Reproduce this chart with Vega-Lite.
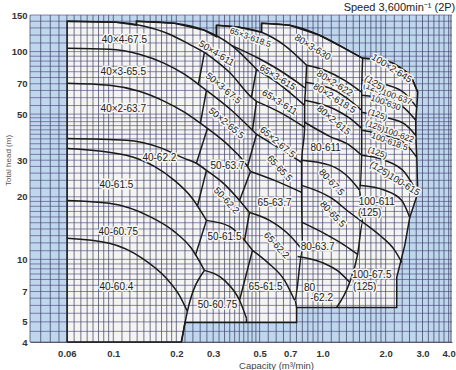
{
"$schema": "https://vega.github.io/schema/vega-lite/v6.json",
"width": 422, "height": 327,
"autosize": "none",
"padding": {"left": 30, "top": 15, "right": 4, "bottom": 28},
"config": {"view": {"fill": "#bfd7ed", "stroke": null}, "font": "Liberation Sans"},
"title": {"text": "Speed  3,600min⁻¹ (2P)", "anchor": "end", "fontSize": 11, "fontWeight": "normal", "color": "#222", "baseline": "bottom", "offset": 0, "dy": 14},
"datasets": {
"gx": [0.04,0.045,0.05,0.055,0.06,0.065,0.07,0.075,0.08,0.085,0.09,0.095,0.1,0.11,0.12,0.13,0.14,0.15,0.16,0.17,0.18,0.19,0.2,0.22,0.24,0.26,0.28,0.3,0.32,0.34,0.36,0.38,0.4,0.42,0.44,0.46,0.48,0.5,0.55,0.6,0.65,0.7,0.75,0.8,0.85,0.9,0.95,1,1.1,1.2,1.3,1.4,1.5,1.6,1.7,1.8,1.9,2,2.2,2.4,2.6,2.8,3,3.2,3.4,3.6,3.8,4,4.1],
"gy": [4,4.5,5,5.5,6,6.5,7,7.5,8,8.5,9,9.5,10,11,12,13,14,15,16,17,18,19,20,22,24,26,28,30,32,34,36,38,40,42,44,46,48,50,55,60,65,70,75,80,85,90,95,100,110,120,130,140,150],
"env": [
{"o":0,"q":0.0602,"h":4.0},{"o":1,"q":0.0602,"h":139.9},{"o":2,"q":0.1034,"h":138.4},{"o":3,"q":0.1288,"h":134.0},{"o":4,"q":0.1288,"h":139.9},{"o":5,"q":0.1957,"h":136.8},{"o":6,"q":0.2725,"h":126.6},{"o":7,"q":0.3111,"h":117.8},{"o":8,"q":0.3111,"h":133.8},{"o":9,"q":0.4009,"h":130.9},{"o":10,"q":0.5106,"h":123.9},{"o":11,"q":0.5106,"h":136.8},{"o":12,"q":0.6953,"h":133.8},{"o":13,"q":0.9675,"h":119.8},{"o":14,"q":1.274,"h":103.7},{"o":15,"q":1.554,"h":92.8},{"o":16,"q":1.98,"h":90.8},{"o":17,"q":2.336,"h":84.0},{"o":18,"q":2.666,"h":74.4},{"o":19,"q":2.848,"h":63.7},{"o":20,"q":2.817,"h":53.9},{"o":21,"q":2.786,"h":46.7},{"o":22,"q":2.786,"h":39.5},{"o":23,"q":2.817,"h":31.0},{"o":24,"q":2.848,"h":20.8},{"o":25,"q":2.608,"h":15.9},{"o":26,"q":2.468,"h":11.68},{"o":27,"q":2.26,"h":8.19},{"o":28,"q":2.26,"h":5.87},{"o":29,"q":0.751,"h":5.87},{"o":30,"q":0.751,"h":4.97},{"o":31,"q":0.22,"h":4.97},{"o":32,"q":0.2115,"h":4.0},{"o":33,"q":0.0602,"h":4.0}
],
"curves": [
{"id":"A1","o":0,"q":0.0602,"h":139.9},{"id":"A1","o":1,"q":0.1034,"h":138.4},{"id":"A1","o":2,"q":0.1407,"h":132.3},{"id":"A1","o":3,"q":0.1853,"h":121.2},{"id":"A1","o":4,"q":0.231,"h":108.4},{"id":"A1","o":5,"q":0.2725,"h":99.2},
{"id":"A2","o":0,"q":0.0602,"h":103.7},{"id":"A2","o":1,"q":0.0957,"h":102.6},{"id":"A2","o":2,"q":0.1331,"h":97.1},{"id":"A2","o":3,"q":0.1754,"h":87.8},{"id":"A2","o":4,"q":0.2186,"h":77.8},{"id":"A2","o":5,"q":0.255,"h":69.6},{"id":"A2","o":6,"q":0.2786,"h":65.1},
{"id":"A3","o":0,"q":0.0602,"h":70.4},{"id":"A3","o":1,"q":0.0957,"h":68.8},{"id":"A3","o":2,"q":0.1331,"h":64.4},{"id":"A3","o":3,"q":0.1754,"h":57.6},{"id":"A3","o":4,"q":0.2186,"h":51.1},{"id":"A3","o":5,"q":0.2607,"h":45.2},{"id":"A3","o":6,"q":0.2817,"h":42.7},
{"id":"A4","o":0,"q":0.0602,"h":38.2},{"id":"A4","o":1,"q":0.1154,"h":37.4},{"id":"A4","o":2,"q":0.166,"h":34.6},{"id":"A4","o":3,"q":0.2186,"h":30.6},{"id":"A4","o":4,"q":0.2494,"h":29.0},{"id":"A4","o":5,"q":0.2786,"h":26.8},
{"id":"A5","o":0,"q":0.0602,"h":34.2},{"id":"A5","o":1,"q":0.1154,"h":31.7},{"id":"A5","o":2,"q":0.1571,"h":28.0},{"id":"A5","o":3,"q":0.1957,"h":24.0},{"id":"A5","o":4,"q":0.2361,"h":19.9},{"id":"A5","o":5,"q":0.2786,"h":15.4},
{"id":"A6","o":0,"q":0.0602,"h":19.2},{"id":"A6","o":1,"q":0.0957,"h":18.6},{"id":"A6","o":2,"q":0.1487,"h":16.1},{"id":"A6","o":3,"q":0.1957,"h":13.6},{"id":"A6","o":4,"q":0.2361,"h":11.3},{"id":"A6","o":5,"q":0.2725,"h":8.85},
{"id":"A7","o":0,"q":0.0602,"h":12.62},{"id":"A7","o":1,"q":0.0957,"h":11.94},{"id":"A7","o":2,"q":0.1376,"h":10.11},{"id":"A7","o":3,"q":0.1793,"h":8.1},{"id":"A7","o":4,"q":0.2069,"h":6.71},{"id":"A7","o":5,"q":0.2259,"h":5.62},
{"id":"S40a","o":0,"q":0.2725,"h":99.2},{"id":"S40a","o":1,"q":0.255,"h":69.6},
{"id":"S40b","o":0,"q":0.2786,"h":65.1},{"id":"S40b","o":1,"q":0.2607,"h":45.2},
{"id":"S40c","o":0,"q":0.2817,"h":42.7},{"id":"S40c","o":1,"q":0.2494,"h":29.0},
{"id":"S40d","o":0,"q":0.2786,"h":26.8},{"id":"S40d","o":1,"q":0.2522,"h":18.0},
{"id":"S40e","o":0,"q":0.2786,"h":15.4},{"id":"S40e","o":1,"q":0.2467,"h":10.45},
{"id":"S40f","o":0,"q":0.2725,"h":8.85},{"id":"S40f","o":1,"q":0.2259,"h":5.62},{"id":"S40f","o":2,"q":0.2115,"h":4.0},
{"id":"B1","o":0,"q":0.1288,"h":139.9},{"id":"B1","o":1,"q":0.1957,"h":136.8},{"id":"B1","o":2,"q":0.2725,"h":126.6},{"id":"B1","o":3,"q":0.3669,"h":107.2},{"id":"B1","o":4,"q":0.4831,"h":82.2},
{"id":"B2","o":0,"q":0.2725,"h":99.2},{"id":"B2","o":1,"q":0.3589,"h":79.5},{"id":"B2","o":2,"q":0.4572,"h":60.3},{"id":"B2","o":3,"q":0.4831,"h":57.6},
{"id":"B3","o":0,"q":0.2786,"h":65.1},{"id":"B3","o":1,"q":0.3669,"h":52.2},{"id":"B3","o":2,"q":0.4623,"h":41.8},{"id":"B3","o":3,"q":0.4831,"h":40.0},
{"id":"B4","o":0,"q":0.2817,"h":42.7},{"id":"B4","o":1,"q":0.3589,"h":35.0},{"id":"B4","o":2,"q":0.4376,"h":28.0},{"id":"B4","o":3,"q":0.4522,"h":26.5},
{"id":"B5","o":0,"q":0.2786,"h":26.8},{"id":"B5","o":1,"q":0.336,"h":23.2},{"id":"B5","o":2,"q":0.4009,"h":19.2},{"id":"B5","o":3,"q":0.4473,"h":16.8},
{"id":"B6","o":0,"q":0.2786,"h":15.4},{"id":"B6","o":1,"q":0.3589,"h":14.4},{"id":"B6","o":2,"q":0.4235,"h":12.35},{"id":"B6","o":3,"q":0.4623,"h":11.05},
{"id":"B7","o":0,"q":0.2725,"h":8.85},{"id":"B7","o":1,"q":0.3398,"h":7.92},{"id":"B7","o":2,"q":0.4009,"h":6.35},{"id":"B7","o":3,"q":0.4328,"h":5.2},
{"id":"S50a","o":0,"q":0.4831,"h":82.2},{"id":"S50a","o":1,"q":0.4572,"h":60.3},
{"id":"S50b","o":0,"q":0.4831,"h":57.6},{"id":"S50b","o":1,"q":0.4623,"h":41.8},
{"id":"S50c","o":0,"q":0.4831,"h":40.0},{"id":"S50c","o":1,"q":0.4376,"h":28.0},
{"id":"S50d","o":0,"q":0.4522,"h":26.5},{"id":"S50d","o":1,"q":0.4009,"h":19.2},
{"id":"S50e","o":0,"q":0.4473,"h":16.8},{"id":"S50e","o":1,"q":0.4235,"h":12.35},
{"id":"S50f","o":0,"q":0.4623,"h":11.05},{"id":"S50f","o":1,"q":0.4009,"h":6.35},
{"id":"S50g","o":0,"q":0.4328,"h":5.2},{"id":"S50g","o":1,"q":0.4328,"h":4.97},
{"id":"C0","o":0,"q":0.3111,"h":133.8},{"id":"C0","o":1,"q":0.3111,"h":117.8},
{"id":"C1","o":0,"q":0.3111,"h":133.8},{"id":"C1","o":1,"q":0.4009,"h":130.9},{"id":"C1","o":2,"q":0.5106,"h":123.9},{"id":"C1","o":3,"q":0.6577,"h":107.2},{"id":"C1","o":4,"q":0.8384,"h":85.9},
{"id":"C2","o":0,"q":0.3669,"h":107.2},{"id":"C2","o":1,"q":0.4831,"h":93.9},{"id":"C2","o":2,"q":0.6228,"h":81.3},{"id":"C2","o":3,"q":0.8291,"h":66.6},
{"id":"C3","o":0,"q":0.4831,"h":82.2},{"id":"C3","o":1,"q":0.6228,"h":69.6},{"id":"C3","o":2,"q":0.8203,"h":55.1},
{"id":"C4","o":0,"q":0.4831,"h":57.6},{"id":"C4","o":1,"q":0.6228,"h":51.1},{"id":"C4","o":2,"q":0.8203,"h":43.2},
{"id":"C5","o":0,"q":0.4831,"h":40.0},{"id":"C5","o":1,"q":0.6228,"h":34.2},{"id":"C5","o":2,"q":0.7936,"h":29.3},
{"id":"C6","o":0,"q":0.4522,"h":26.5},{"id":"C6","o":1,"q":0.5893,"h":24.0},{"id":"C6","o":2,"q":0.7936,"h":21.0},
{"id":"C7","o":0,"q":0.4473,"h":16.8},{"id":"C7","o":1,"q":0.5577,"h":15.4},{"id":"C7","o":2,"q":0.6953,"h":13.05},{"id":"C7","o":3,"q":0.8024,"h":11.05},
{"id":"C8","o":0,"q":0.4623,"h":11.05},{"id":"C8","o":1,"q":0.5455,"h":9.67},{"id":"C8","o":2,"q":0.6577,"h":7.92},{"id":"C8","o":3,"q":0.735,"h":6.35},
{"id":"S65","o":0,"q":0.8384,"h":85.9},{"id":"S65","o":1,"q":0.8291,"h":66.6},{"id":"S65","o":2,"q":0.8203,"h":55.1},{"id":"S65","o":3,"q":0.8203,"h":43.2},{"id":"S65","o":4,"q":0.7936,"h":29.3},{"id":"S65","o":5,"q":0.7936,"h":21.0},{"id":"S65","o":6,"q":0.8024,"h":11.05},{"id":"S65","o":7,"q":0.735,"h":6.35},{"id":"S65","o":8,"q":0.751,"h":5.87},
{"id":"D0","o":0,"q":0.5106,"h":136.8},{"id":"D0","o":1,"q":0.5106,"h":123.9},
{"id":"D1","o":0,"q":0.5106,"h":136.8},{"id":"D1","o":1,"q":0.6953,"h":133.8},{"id":"D1","o":2,"q":0.9675,"h":119.8},{"id":"D1","o":3,"q":1.274,"h":103.7},{"id":"D1","o":4,"q":1.554,"h":92.8},
{"id":"D2","o":0,"q":0.8384,"h":85.9},{"id":"D2","o":1,"q":1.0223,"h":81.3},{"id":"D2","o":2,"q":1.274,"h":72.7},{"id":"D2","o":3,"q":1.537,"h":63.7},
{"id":"D3","o":0,"q":0.8291,"h":71.2},{"id":"D3","o":1,"q":1.141,"h":65.1},{"id":"D3","o":2,"q":1.347,"h":58.3},{"id":"D3","o":3,"q":1.537,"h":52.2},
{"id":"D4","o":0,"q":0.8203,"h":58.3},{"id":"D4","o":1,"q":1.141,"h":52.8},{"id":"D4","o":2,"q":1.347,"h":47.8},{"id":"D4","o":3,"q":1.537,"h":42.7},
{"id":"D5","o":0,"q":0.8203,"h":45.7},{"id":"D5","o":1,"q":1.08,"h":39.1},{"id":"D5","o":2,"q":1.347,"h":35.4},{"id":"D5","o":3,"q":1.537,"h":31.7},
{"id":"D6","o":0,"q":0.7936,"h":30.0},{"id":"D6","o":1,"q":1.08,"h":28.4},{"id":"D6","o":2,"q":1.347,"h":24.5},{"id":"D6","o":3,"q":1.503,"h":21.5},
{"id":"D7","o":0,"q":0.7936,"h":22.7},{"id":"D7","o":1,"q":1.104,"h":19.7},{"id":"D7","o":2,"q":1.347,"h":16.8},{"id":"D7","o":3,"q":1.554,"h":15.1},
{"id":"D8","o":0,"q":0.7936,"h":15.1},{"id":"D8","o":1,"q":1.0223,"h":13.3},{"id":"D8","o":2,"q":1.274,"h":11.68},{"id":"D8","o":3,"q":1.47,"h":10.57},
{"id":"D9","o":0,"q":0.7591,"h":10.33},{"id":"D9","o":1,"q":0.989,"h":9.67},{"id":"D9","o":2,"q":1.206,"h":8.66},{"id":"D9","o":3,"q":1.347,"h":7.75},
{"id":"S80","o":0,"q":1.554,"h":92.8},{"id":"S80","o":1,"q":1.537,"h":63.7},{"id":"S80","o":2,"q":1.537,"h":52.2},{"id":"S80","o":3,"q":1.537,"h":42.7},{"id":"S80","o":4,"q":1.537,"h":31.7},{"id":"S80","o":5,"q":1.503,"h":21.5},{"id":"S80","o":6,"q":1.554,"h":15.1},{"id":"S80","o":7,"q":1.47,"h":10.57},{"id":"S80","o":8,"q":1.347,"h":7.75},{"id":"S80","o":9,"q":1.167,"h":5.87},
{"id":"E1","o":0,"q":1.554,"h":92.8},{"id":"E1","o":1,"q":1.98,"h":90.8},{"id":"E1","o":2,"q":2.336,"h":84.0},{"id":"E1","o":3,"q":2.666,"h":74.4},{"id":"E1","o":4,"q":2.848,"h":63.7},
{"id":"E2","o":0,"q":1.537,"h":72.7},{"id":"E2","o":1,"q":1.98,"h":69.6},{"id":"E2","o":2,"q":2.468,"h":63.0},{"id":"E2","o":3,"q":2.817,"h":53.9},
{"id":"E3","o":0,"q":1.537,"h":61.6},{"id":"E3","o":1,"q":1.98,"h":58.9},{"id":"E3","o":2,"q":2.468,"h":53.3},{"id":"E3","o":3,"q":2.786,"h":46.7},
{"id":"E4","o":0,"q":1.537,"h":51.1},{"id":"E4","o":1,"q":1.98,"h":48.3},{"id":"E4","o":2,"q":2.468,"h":44.7},{"id":"E4","o":3,"q":2.786,"h":39.5},
{"id":"E5","o":0,"q":1.537,"h":41.8},{"id":"E5","o":1,"q":1.98,"h":39.5},{"id":"E5","o":2,"q":2.468,"h":36.2},{"id":"E5","o":3,"q":2.817,"h":31.0},
{"id":"E6","o":0,"q":1.537,"h":31.7},{"id":"E6","o":1,"q":1.98,"h":30.0},{"id":"E6","o":2,"q":2.468,"h":26.2},{"id":"E6","o":3,"q":2.848,"h":20.8},
{"id":"E7","o":0,"q":1.503,"h":22.7},{"id":"E7","o":1,"q":1.98,"h":21.5},{"id":"E7","o":2,"q":2.388,"h":19.2},{"id":"E7","o":3,"q":2.608,"h":15.9},
{"id":"E8","o":0,"q":1.554,"h":15.1},{"id":"E8","o":1,"q":1.874,"h":13.05},{"id":"E8","o":2,"q":2.211,"h":11.05},{"id":"E8","o":3,"q":2.388,"h":9.67}
],
"lab0": [
{"t":"40×4-67.5","q":0.1129,"h":113.3},{"t":"40×3-65.5","q":0.1116,"h":79.5},{"t":"40×2-63.7","q":0.1116,"h":52.8},{"t":"40-62.2","q":0.166,"h":30.6},{"t":"40-61.5","q":0.1034,"h":22.7},{"t":"40-60.75","q":0.1056,"h":13.6},{"t":"40-60.4","q":0.1034,"h":7.33},
{"t":"50-63.7","q":0.3512,"h":28.0},{"t":"50-61.5","q":0.3398,"h":12.76},{"t":"50-60.75","q":0.3145,"h":6.01},
{"t":"65-63.7","q":0.5893,"h":18.6},{"t":"65-61.5","q":0.5336,"h":7.33},
{"t":"80-611","q":1.034,"h":34.2},{"t":"80-63.7","q":0.9464,"h":11.43},{"t":"80","q":0.8667,"h":7.25},{"t":"-62.2","q":0.989,"h":6.49},
{"t":"100-611","q":1.813,"h":18.8},{"t":"(125)","q":1.679,"h":16.7},{"t":"100-67.5","q":1.716,"h":8.38},{"t":"(125)","q":1.589,"h":7.33}
],
"lab20": [
{"t":"65×3-618.5","q":0.4522,"h":117.2},{"t":"(125)100-637","q":2.046,"h":63.0},{"t":"100-630","q":2.001,"h":56.9},{"t":"(125)","q":1.833,"h":49.9},{"t":"(125)100-622","q":2.092,"h":41.4},{"t":"100-618.5","q":2.092,"h":37.0},{"t":"(125)","q":1.833,"h":32.7}
],
"lab32": [
{"t":"100×2-645","q":2.139,"h":83.1},{"t":"(125)","q":1.774,"h":70.4},{"t":"80×3-630","q":0.8957,"h":104.9},{"t":"80×2-622","q":1.141,"h":70.4},{"t":"80×2-618.5","q":1.141,"h":59.6},{"t":"65×3-615","q":0.6092,"h":75.2},{"t":"65×3-611","q":0.6228,"h":57.0},{"t":"50×4-611","q":0.3111,"h":98.1},{"t":"(125)100-615","q":2.211,"h":24.5}
],
"lab40": [
{"t":"80×2-615","q":1.129,"h":46.7},{"t":"65×2-67.5","q":0.6092,"h":36.6},{"t":"50×3-67.5","q":0.336,"h":66.6},{"t":"50×2-65.5","q":0.3473,"h":45.2}
],
"lab47": [
{"t":"80-67.5","q":1.104,"h":23.5},{"t":"65-65.5","q":0.6228,"h":27.4},{"t":"50-62.2","q":0.3473,"h":19.2},{"t":"80-65.5","q":1.117,"h":16.5},{"t":"65-62.2","q":0.6024,"h":11.68}
]
},
"layer": [
{"data": {"name": "env"},
 "mark": {"type": "line", "fill": "#f4f4f2", "strokeWidth": 0, "interpolate": "linear"},
 "encoding": {
  "x": {"field": "q", "type": "quantitative", "scale": {"type": "log", "domain": [0.04, 4.15], "nice": false},
    "axis": {"values": [0.06,0.1,0.2,0.3,0.5,0.7,1,2,3,4], "labelExpr": "datum.value >= 1 ? format(datum.value, '.1f') : format(datum.value, '~g')", "title": "Capacity (m³/min)", "grid": false, "ticks": false, "domain": true, "domainColor": "#666", "labelFontWeight": "bold", "labelFontSize": 9.5, "labelColor": "#333", "labelPadding": 6, "labelFlush": false, "labelOverlap": false, "titleFontSize": 9.5, "titleFontWeight": "normal", "titleColor": "#444", "titleX": 246, "titleY": 26, "titleAlign": "center", "titleBaseline": "alphabetic"}},
  "y": {"field": "h", "type": "quantitative", "scale": {"type": "log", "domain": [4, 150], "nice": false},
    "axis": {"values": [4,5,7,10,20,30,50,70,100,150], "format": "d", "title": "Total head (m)", "grid": false, "ticks": false, "domain": false, "labelFontWeight": "bold", "labelFontSize": 9.5, "labelColor": "#333", "labelPadding": 3, "labelFlush": false, "labelOverlap": false, "titleFontSize": 8, "titleFontWeight": "normal", "titleColor": "#555", "titleX": -22, "titleY": 145, "titleAlign": "center", "titleBaseline": "middle"}},
  "order": {"field": "o", "type": "quantitative"}}},
{"data": {"name": "gx"},
 "mark": {"type": "rule", "stroke": "#262a48", "strokeWidth": 0.8, "opacity": 0.8},
 "encoding": {"x": {"field": "data", "type": "quantitative", "scale": {"type": "log", "domain": [0.04, 4.15], "nice": false}}}},
{"data": {"name": "gy"},
 "mark": {"type": "rule", "stroke": "#463a78", "strokeWidth": 0.8, "opacity": 0.75},
 "encoding": {"y": {"field": "data", "type": "quantitative", "scale": {"type": "log", "domain": [4, 150], "nice": false}}}},
{"data": {"name": "curves"},
 "mark": {"type": "line", "stroke": "#1a1a1a", "strokeWidth": 1.5, "interpolate": "monotone"},
 "encoding": {
  "x": {"field": "q", "type": "quantitative", "scale": {"type": "log", "domain": [0.04, 4.15], "nice": false}},
  "y": {"field": "h", "type": "quantitative", "scale": {"type": "log", "domain": [4, 150], "nice": false}},
  "detail": {"field": "id"},
  "order": {"field": "o", "type": "quantitative"}}},
{"data": {"name": "env"},
 "mark": {"type": "line", "stroke": "#1a1a1a", "strokeWidth": 1.5},
 "encoding": {
  "x": {"field": "q", "type": "quantitative", "scale": {"type": "log", "domain": [0.04, 4.15], "nice": false}},
  "y": {"field": "h", "type": "quantitative", "scale": {"type": "log", "domain": [4, 150], "nice": false}},
  "order": {"field": "o", "type": "quantitative"}}},
{"data": {"name": "lab0"}, "mark": {"type": "text", "font": "Liberation Sans Narrow, Liberation Sans", "fontSize": 10, "stroke": "#f4f4f2", "strokeWidth": 3, "strokeJoin": "round"},
 "encoding": {"x": {"field": "q", "type": "quantitative"}, "y": {"field": "h", "type": "quantitative"}, "text": {"field": "t"}}},
{"data": {"name": "lab0"}, "mark": {"type": "text", "font": "Liberation Sans Narrow, Liberation Sans", "fontSize": 10, "fill": "#222"},
 "encoding": {"x": {"field": "q", "type": "quantitative"}, "y": {"field": "h", "type": "quantitative"}, "text": {"field": "t"}}},
{"data": {"name": "lab20"}, "mark": {"type": "text", "angle": 20, "font": "Liberation Sans Narrow, Liberation Sans", "fontSize": 8.5, "stroke": "#f4f4f2", "strokeWidth": 3, "strokeJoin": "round"},
 "encoding": {"x": {"field": "q", "type": "quantitative"}, "y": {"field": "h", "type": "quantitative"}, "text": {"field": "t"}}},
{"data": {"name": "lab20"}, "mark": {"type": "text", "angle": 20, "font": "Liberation Sans Narrow, Liberation Sans", "fontSize": 8.5, "fill": "#222"},
 "encoding": {"x": {"field": "q", "type": "quantitative"}, "y": {"field": "h", "type": "quantitative"}, "text": {"field": "t"}}},
{"data": {"name": "lab32"}, "mark": {"type": "text", "angle": 32, "font": "Liberation Sans Narrow, Liberation Sans", "fontSize": 9.5, "stroke": "#f4f4f2", "strokeWidth": 3, "strokeJoin": "round"},
 "encoding": {"x": {"field": "q", "type": "quantitative"}, "y": {"field": "h", "type": "quantitative"}, "text": {"field": "t"}}},
{"data": {"name": "lab32"}, "mark": {"type": "text", "angle": 32, "font": "Liberation Sans Narrow, Liberation Sans", "fontSize": 9.5, "fill": "#222"},
 "encoding": {"x": {"field": "q", "type": "quantitative"}, "y": {"field": "h", "type": "quantitative"}, "text": {"field": "t"}}},
{"data": {"name": "lab40"}, "mark": {"type": "text", "angle": 40, "font": "Liberation Sans Narrow, Liberation Sans", "fontSize": 9.5, "stroke": "#f4f4f2", "strokeWidth": 3, "strokeJoin": "round"},
 "encoding": {"x": {"field": "q", "type": "quantitative"}, "y": {"field": "h", "type": "quantitative"}, "text": {"field": "t"}}},
{"data": {"name": "lab40"}, "mark": {"type": "text", "angle": 40, "font": "Liberation Sans Narrow, Liberation Sans", "fontSize": 9.5, "fill": "#222"},
 "encoding": {"x": {"field": "q", "type": "quantitative"}, "y": {"field": "h", "type": "quantitative"}, "text": {"field": "t"}}},
{"data": {"name": "lab47"}, "mark": {"type": "text", "angle": 47, "font": "Liberation Sans Narrow, Liberation Sans", "fontSize": 9.5, "stroke": "#f4f4f2", "strokeWidth": 3, "strokeJoin": "round"},
 "encoding": {"x": {"field": "q", "type": "quantitative"}, "y": {"field": "h", "type": "quantitative"}, "text": {"field": "t"}}},
{"data": {"name": "lab47"}, "mark": {"type": "text", "angle": 47, "font": "Liberation Sans Narrow, Liberation Sans", "fontSize": 9.5, "fill": "#222"},
 "encoding": {"x": {"field": "q", "type": "quantitative"}, "y": {"field": "h", "type": "quantitative"}, "text": {"field": "t"}}}
]
}
